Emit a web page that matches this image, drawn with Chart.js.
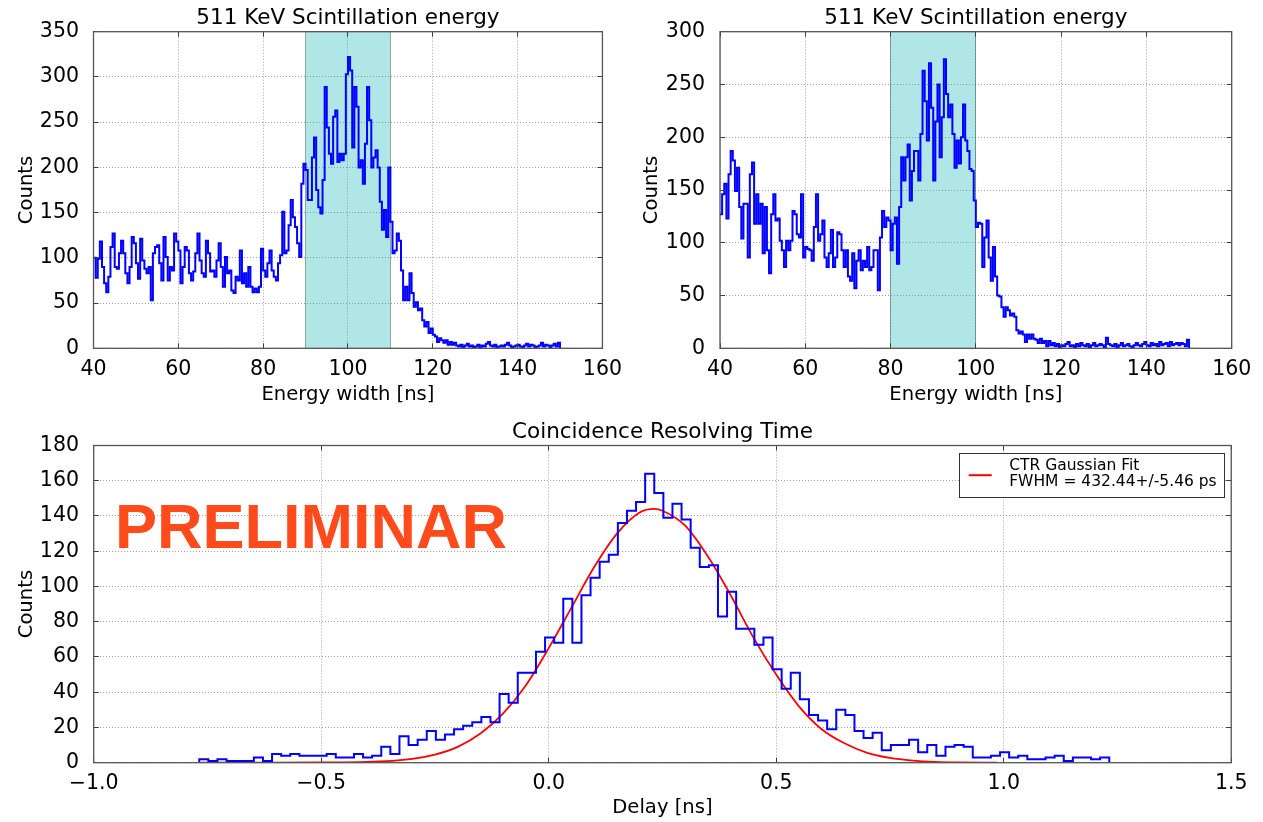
<!DOCTYPE html>
<html>
<head>
<meta charset="utf-8">
<title>511 KeV Scintillation energy / Coincidence Resolving Time</title>
<script src="https://cdn.jsdelivr.net/npm/chart.js@4.4.1/dist/chart.umd.min.js"></script>
<style>
  body { margin: 0; background: #fff; }
  #page { position: relative; width: 1263px; height: 822px; }
  canvas { position: absolute; }
</style>
</head>
<body>
<div id="page">
  <canvas id="energyLeft" width="631" height="411" style="left:0;top:0"></canvas>
  <canvas id="energyRight" width="632" height="411" style="left:631px;top:0"></canvas>
  <canvas id="delayChart" width="1263" height="411" style="left:0;top:411px"></canvas>
</div>
<script>
// Energy spectra, 0.5 ns bins starting at 40 ns
const energyBinStart = 40;
const energyBinWidth = 0.5;
const energyLeftCounts = [
  100, 78, 99, 118, 90, 72, 62, 79, 112, 127,
  90, 88, 105, 119, 105, 83, 72, 90, 123, 116,
  94, 77, 121, 97, 88, 83, 90, 53, 105, 112,
  114, 94, 75, 123, 101, 75, 90, 86, 127, 118,
  108, 72, 90, 112, 108, 83, 75, 85, 105, 127,
  97, 83, 79, 119, 105, 85, 86, 79, 97, 116,
  90, 68, 101, 83, 86, 64, 61, 79, 75, 108,
  72, 83, 68, 90, 68, 62, 66, 62, 68, 110,
  86, 79, 94, 108, 86, 79, 75, 94, 103, 151,
  105, 108, 136, 164, 145, 134, 116, 101, 182, 204,
  197, 164, 164, 211, 233, 175, 156, 149, 186, 289,
  244, 215, 204, 256, 263, 206, 215, 208, 215, 303,
  322, 307, 222, 289, 267, 200, 208, 182, 226, 289,
  252, 200, 211, 219, 200, 162, 131, 153, 123, 200,
  140, 105, 108, 127, 119, 86, 53, 68, 53, 83,
  61, 46, 51, 42, 44, 31, 24, 29, 17, 22,
  15, 13, 7, 11, 9, 6, 9, 4, 7, 4,
  6, 3, 2, 4, 1, 3, 5, 2, 3, 1,
  2, 4, 1, 3, 2, 5, 7, 3, 2, 4,
  1, 2, 3, 2, 4, 6, 3, 1, 2, 3,
  4, 2, 1, 3, 5, 2, 4, 3, 1, 2,
  3, 6, 2, 4, 3, 1, 3, 5, 2, 6
];
const energyRightCounts = [
  127, 146, 156, 123, 165, 187, 178, 149, 171, 134,
  104, 137, 137, 86, 165, 176, 118, 146, 118, 137,
  90, 134, 93, 71, 127, 146, 121, 123, 102, 93,
  77, 102, 93, 102, 130, 127, 108, 105, 146, 86,
  96, 94, 93, 83, 115, 146, 102, 108, 121, 86,
  77, 90, 112, 77, 86, 110, 108, 93, 77, 93,
  68, 64, 90, 57, 83, 93, 74, 83, 77, 96,
  74, 77, 93, 93, 55, 105, 130, 115, 124, 121,
  93, 118, 124, 80, 134, 181, 159, 181, 193, 140,
  168, 187, 187, 159, 203, 263, 234, 197, 270, 228,
  159, 215, 250, 181, 219, 274, 241, 219, 231, 203,
  171, 197, 175, 200, 231, 197, 187, 170, 168, 140,
  115, 119, 118, 77, 105, 121, 86, 64, 96, 68,
  50, 49, 39, 30, 39, 36, 31, 33, 30, 17,
  14, 16, 13, 6, 13, 9, 13, 9, 8, 5,
  9, 5, 7, 2, 7, 3, 5, 2, 4, 1,
  3, 2, 4, 6, 2, 3, 1, 4, 2, 5,
  3, 2, 4, 1, 3, 5, 2, 3, 4, 3,
  1, 10, 4, 3, 2, 4, 1, 3, 5, 2,
  3, 4, 2, 1, 3, 5, 3, 2, 4, 6,
  3, 2, 5, 3, 4, 2, 6, 3, 4, 5,
  2, 6, 3, 4, 5, 3, 5, 4, 2, 8
];
const energyLeftWindow = [90, 110];
const energyRightWindow = [80, 100];
const energyTicks = [40, 60, 80, 100, 120, 140, 160];
const energyLeftCountTicks = [0, 50, 100, 150, 200, 250, 300, 350];
const energyRightCountTicks = [0, 50, 100, 150, 200, 250, 300];

// Delay histogram, 0.02 ns bins
const delayBinStart = -0.768;
const delayBinWidth = 0.02;
const delayCounts = [
  2, 1, 2, 1, 1, 1, 3, 1, 5, 4,
  5, 4, 4, 4, 5, 3, 3, 5, 3, 4,
  9, 5, 15, 10, 13, 18, 13, 16, 19, 21,
  23, 26, 23, 39, 34, 51, 51, 63, 71, 68,
  93, 68, 95, 105, 114, 118, 136, 143, 148, 164,
  153, 139, 147, 138, 122, 111, 112, 83, 97, 76,
  76, 67, 71, 53, 42, 51, 36, 27, 24, 19,
  30, 27, 18, 14, 17, 7, 10, 10, 13, 6,
  10, 4, 9, 10, 9, 3, 3, 4, 6, 3,
  4, 2, 2, 3, 4, 1, 3, 3, 2, 3
];
// red fit curve, read at these delays
const fitDelay = [-0.765, -0.7, -0.6, -0.5, -0.4, -0.3, -0.25, -0.2, -0.15, -0.1, -0.05, 0.0, 0.05, 0.1,
  0.15, 0.2, 0.232, 0.25, 0.3, 0.35, 0.4, 0.45, 0.5, 0.55, 0.6, 0.65, 0.7, 0.75, 0.8, 0.85, 0.9, 0.985];
const fitCounts = [0, 0, 0, 0.1, 0.4, 2.2, 4.6, 9, 16.6, 28, 44, 65, 88, 111,
  130, 142, 144, 143, 134.5, 117, 95, 71, 50, 32, 19, 11, 5.6, 2.7, 1.2, 0.5, 0.2, 0];
const delayTicks = [-1.0, -0.5, 0.0, 0.5, 1.0, 1.5];
const delayCountTicks = [0, 20, 40, 60, 80, 100, 120, 140, 160, 180];

const fitLabel = ['CTR Gaussian Fit', 'FWHM = 432.44+/-5.46 ps'];
const stampText = 'PRELIMINAR';

Chart.defaults.font.family = "'DejaVu Sans', sans-serif";
Chart.defaults.color = '#000';

// histogram outline; closeLeft drops the first bin down to zero
function stepPoints(start, width, counts, closeLeft) {
  const pts = closeLeft ? [{ x: start, y: 0 }] : [];
  counts.forEach((c, i) => pts.push({ x: start + i * width, y: c }));
  pts.push({ x: start + counts.length * width, y: 0 });
  return pts;
}

function useTicks(values) {
  return scale => { scale.ticks = values.map(v => ({ value: v })); };
}

function alignPx(p) {
  return Math.round(p - 0.5) + 0.5;
}

// shaded window, frame with inward ticks, stamp and fit legend
const decor = {
  id: 'decor',
  beforeDatasetsDraw(chart, args, opts) {
    if (!opts.window) return;
    const { ctx, chartArea: a } = chart;
    const xs = chart.scales.x;
    const x0 = xs.getPixelForValue(opts.window[0]);
    const x1 = xs.getPixelForValue(opts.window[1]);
    ctx.save();
    ctx.fillStyle = 'rgba(0, 175, 175, 0.31)';
    ctx.fillRect(x0, a.top, x1 - x0, a.bottom - a.top);
    ctx.strokeStyle = 'rgba(40, 70, 70, 0.45)';
    ctx.lineWidth = 1;
    ctx.beginPath();
    [x0, x1].forEach(px => {
      ctx.moveTo(alignPx(px), a.top);
      ctx.lineTo(alignPx(px), a.bottom);
    });
    ctx.stroke();
    ctx.restore();
  },
  afterDatasetsDraw(chart) {
    const { ctx, chartArea: a, scales } = chart;
    ctx.save();
    ctx.strokeStyle = '#3c3c3c';
    ctx.lineWidth = 1;
    ctx.beginPath();
    scales.x.ticks.forEach(t => {
      const px = alignPx(scales.x.getPixelForValue(t.value));
      ctx.moveTo(px, a.bottom); ctx.lineTo(px, a.bottom - 5);
      ctx.moveTo(px, a.top); ctx.lineTo(px, a.top + 5);
    });
    scales.y.ticks.forEach(t => {
      const py = alignPx(scales.y.getPixelForValue(t.value));
      ctx.moveTo(a.left, py); ctx.lineTo(a.left + 5, py);
      ctx.moveTo(a.right, py); ctx.lineTo(a.right - 5, py);
    });
    ctx.stroke();
    ctx.strokeStyle = '#555';
    ctx.lineWidth = 1.3;
    ctx.strokeRect(a.left, a.top, a.right - a.left, a.bottom - a.top);
    ctx.restore();
  },
  afterDraw(chart, args, opts) {
    const { ctx, chartArea: a, scales } = chart;
    if (opts.stamp) {
      ctx.save();
      ctx.font = "bold 63px 'Liberation Sans', Arial, sans-serif";
      ctx.fillStyle = '#ff4a1c';
      ctx.textBaseline = 'alphabetic';
      ctx.fillText(opts.stamp.text, scales.x.getPixelForValue(opts.stamp.x), scales.y.getPixelForValue(opts.stamp.y));
      ctx.restore();
    }
    if (opts.legend) {
      ctx.save();
      ctx.font = "15.5px 'DejaVu Sans', sans-serif";
      const w = Math.max(...opts.legend.map(s => ctx.measureText(s).width));
      const right = a.right - 7;
      const top = a.top + 8;
      const left = right - 7.5 - w - 50;
      const h = 43.5;
      ctx.fillStyle = '#fff';
      ctx.fillRect(left, top, right - left, h);
      ctx.strokeStyle = '#333';
      ctx.lineWidth = 1;
      ctx.strokeRect(alignPx(left), alignPx(top), Math.round(right - left), Math.round(h));
      ctx.strokeStyle = '#ff0000';
      ctx.lineWidth = 2;
      ctx.beginPath();
      ctx.moveTo(left + 9.5, top + 21.7);
      ctx.lineTo(left + 32.5, top + 21.7);
      ctx.stroke();
      ctx.fillStyle = '#000';
      ctx.textBaseline = 'middle';
      ctx.fillText(opts.legend[0], left + 50, top + 12.7);
      ctx.fillText(opts.legend[1], left + 50, top + 28.9);
      ctx.restore();
    }
  }
};
Chart.register(decor);

const gridOpts = { color: '#a0a0a0', lineWidth: 1, drawTicks: false };
const borderOpts = { display: false, dash: [1, 2] };

function makeScales(cfg) {
  return {
    x: {
      type: 'linear',
      min: cfg.xTicks[0],
      max: cfg.xTicks[cfg.xTicks.length - 1],
      afterBuildTicks: useTicks(cfg.xTicks),
      afterFit: s => { s.height = cfg.xHeight; },
      grid: gridOpts,
      border: borderOpts,
      ticks: {
        font: { size: 20.5 },
        padding: 9,
        maxRotation: 0,
        autoSkip: false,
        callback: cfg.xFormat || (v => String(v))
      },
      title: { display: true, text: cfg.xTitle, font: { size: 19.6 }, padding: { top: 0, bottom: cfg.xTitlePad } }
    },
    y: {
      type: 'linear',
      min: 0,
      max: cfg.yTicks[cfg.yTicks.length - 1],
      afterBuildTicks: useTicks(cfg.yTicks),
      afterFit: s => { s.width = cfg.yWidth; },
      grid: gridOpts,
      border: borderOpts,
      ticks: { font: { size: 20.5 }, padding: cfg.yPad, autoSkip: false },
      title: { display: true, text: 'Counts', font: { size: 19.6 }, padding: { top: cfg.yTitlePad, bottom: 0 } }
    }
  };
}

function baseOptions(cfg) {
  return {
    responsive: false,
    animation: false,
    events: [],
    layout: { padding: { left: 0, right: cfg.padRight, top: 0, bottom: 0 } },
    plugins: {
      legend: { display: false },
      tooltip: { enabled: false },
      title: {
        display: true,
        text: cfg.title,
        fullSize: false,
        font: { size: 21.5, weight: 'normal' },
        color: '#000',
        padding: { top: cfg.titleTop, bottom: cfg.titleBottom }
      },
      decor: cfg.decor
    },
    scales: makeScales(cfg)
  };
}

function histDataset(points) {
  return {
    data: points,
    borderColor: '#0000ff',
    borderWidth: 2,
    pointRadius: 0,
    stepped: 'before',
    fill: false
  };
}

new Chart(document.getElementById('energyLeft'), {
  type: 'line',
  data: { datasets: [histDataset(stepPoints(energyBinStart, energyBinWidth, energyLeftCounts, false))] },
  options: baseOptions({
    title: '511 KeV Scintillation energy',
    titleTop: 5.1, titleBottom: 0.8,
    padRight: 25.3,
    xTicks: energyTicks, yTicks: energyLeftCountTicks,
    xTitle: 'Energy width [ns]', xHeight: 62.7, xTitlePad: 4.2,
    yWidth: 93.5, yPad: 14.5, yTitlePad: 15.2,
    decor: { window: energyLeftWindow }
  })
});

new Chart(document.getElementById('energyRight'), {
  type: 'line',
  data: { datasets: [histDataset(stepPoints(energyBinStart, energyBinWidth, energyRightCounts, false))] },
  options: baseOptions({
    title: '511 KeV Scintillation energy',
    titleTop: 5.1, titleBottom: 0.8,
    padRight: 31.3,
    xTicks: energyTicks, yTicks: energyRightCountTicks,
    xTitle: 'Energy width [ns]', xHeight: 62.7, xTitlePad: 4.2,
    yWidth: 89, yPad: 15, yTitlePad: 9.2,
    decor: { window: energyRightWindow }
  })
});

new Chart(document.getElementById('delayChart'), {
  type: 'line',
  data: {
    datasets: [
      histDataset(stepPoints(delayBinStart, delayBinWidth, delayCounts, true)),
      {
        data: fitDelay.map((d, i) => ({ x: d, y: fitCounts[i] })),
        borderColor: '#ff0000',
        borderWidth: 1.8,
        pointRadius: 0,
        cubicInterpolationMode: 'monotone',
        fill: false
      }
    ]
  },
  options: baseOptions({
    title: 'Coincidence Resolving Time',
    titleTop: 8.7, titleBottom: 0,
    padRight: 31.8,
    xTicks: delayTicks, yTicks: delayCountTicks,
    xFormat: v => v.toFixed(1).replace('-', '\u2212'),
    xTitle: 'Delay [ns]', xHeight: 59.3, xTitlePad: 2.2,
    yWidth: 93.7, yPad: 14.7, yTitlePad: 15.2,
    decor: { stamp: { text: stampText, x: -0.953, y: 122 }, legend: fitLabel }
  })
});
</script>
</body>
</html>
